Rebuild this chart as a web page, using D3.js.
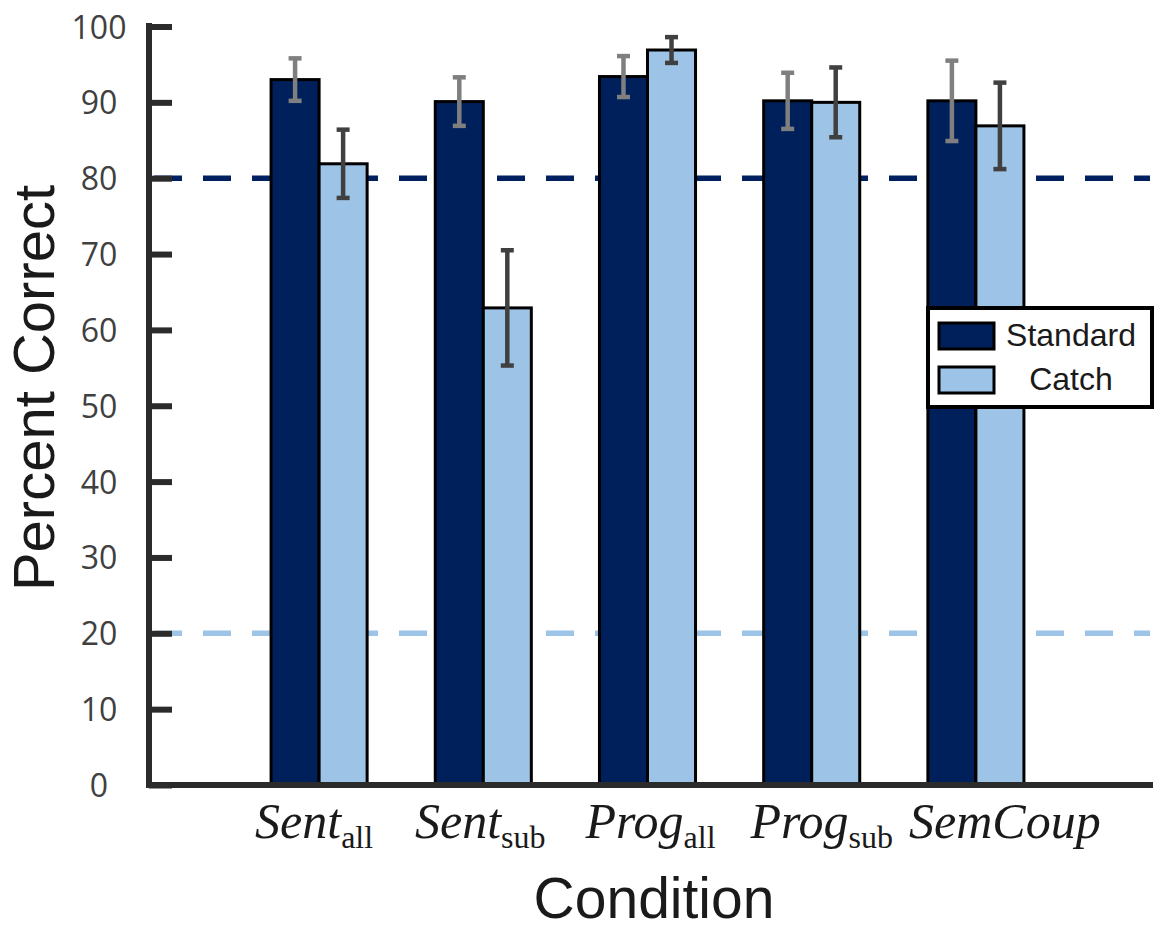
<!DOCTYPE html>
<html>
<head>
<meta charset="utf-8">
<script src="https://cdn.jsdelivr.net/npm/d3@7"></script>
<style>
  html, body { margin: 0; padding: 0; background: #fff; }
  svg { display: block; }
</style>
</head>
<body>
<script>
// ---------- data ----------
const categories = ["Sent_all", "Sent_sub", "Prog_all", "Prog_sub", "SemCoup"];
const labelMain = ["Sent", "Sent", "Prog", "Prog", "SemCoup"];
const labelSub = ["all", "sub", "all", "sub", ""];
const seriesNames = ["Standard", "Catch"];
const standardValues = [93.0, 90.1, 93.4, 90.2, 90.2];
const standardErrors = [2.8, 3.2, 2.7, 3.7, 5.3];
const catchValues = [81.9, 62.9, 96.9, 90.0, 86.9];
const catchErrors = [4.5, 7.6, 1.7, 4.6, 5.7];
const yTicks = [0, 10, 20, 30, 40, 50, 60, 70, 80, 90, 100];
const refLines = [80, 20];

// ---------- layout ----------
const W = 1156, H = 929;
const axisX = 149, axisRight = 1153;
const colors = { Standard: "#00205c", Catch: "#9dc3e6" };
const errColors = { Standard: "#7f7f7f", Catch: "#404040" };
const refColors = ["#002060", "#9dc3e6"];
const labelNudge = [-5, -3, 3, 10, 29];

const svg = d3.select("body").append("svg").attr("width", W).attr("height", H);

const y = d3.scaleLinear().domain([0, 100]).range([785, 26.5]);
const x = d3.scaleBand().domain(categories).range([237, 1058]).paddingInner(0.415).paddingOuter(0.2075);
const xs = d3.scaleBand().domain(seriesNames).range([0, x.bandwidth()]);

const rows = categories.map((c, i) => ({
  cat: c,
  vals: [
    { s: "Standard", v: standardValues[i], e: standardErrors[i] },
    { s: "Catch", v: catchValues[i], e: catchErrors[i] }
  ]
}));

// reference dashed lines
svg.selectAll("line.ref").data(refLines).join("line")
  .attr("class", "ref")
  .attr("x1", axisX).attr("x2", 1150)
  .attr("y1", d => y(d)).attr("y2", d => y(d))
  .attr("stroke", (d, i) => refColors[i])
  .attr("stroke-width", 5.5)
  .attr("stroke-dasharray", "28,21")
  .attr("stroke-dashoffset", 44);

// y axis ticks + labels
const yAxis = d3.axisLeft(y).tickValues(yTicks).tickSize(-23).tickSizeOuter(0).tickFormat(d3.format("d"));
const gy = svg.append("g").attr("transform", `translate(${axisX},0)`).call(yAxis);
gy.select(".domain").remove();
gy.selectAll(".tick line").attr("stroke", "#2b2b2b").attr("stroke-width", 6);
gy.selectAll(".tick text")
  .attr("x", -50).attr("dy", "0.36em")
  .attr("text-anchor", "middle")
  .attr("fill", "#404040")
  .style("font-family", "'Open Sans', sans-serif")
  .style("font-size", "32px");

// bars
const groups = svg.selectAll("g.grp").data(rows).join("g")
  .attr("class", "grp")
  .attr("transform", d => `translate(${x(d.cat)},0)`);

groups.selectAll("rect").data(d => d.vals).join("rect")
  .attr("x", d => xs(d.s))
  .attr("width", xs.bandwidth())
  .attr("y", d => y(d.v))
  .attr("height", d => y(0) - y(d.v))
  .attr("fill", d => colors[d.s])
  .attr("stroke", "#000")
  .attr("stroke-width", 3);

// error bars
const eb = groups.selectAll("g.err").data(d => d.vals).join("g").attr("class", "err")
  .attr("stroke", d => errColors[d.s]).attr("stroke-width", 4.5);
eb.append("line")
  .attr("x1", d => xs(d.s) + xs.bandwidth() / 2).attr("x2", d => xs(d.s) + xs.bandwidth() / 2)
  .attr("y1", d => y(d.v + d.e)).attr("y2", d => y(d.v - d.e));
eb.append("line")
  .attr("x1", d => xs(d.s) + xs.bandwidth() / 2 - 6.5).attr("x2", d => xs(d.s) + xs.bandwidth() / 2 + 6.5)
  .attr("y1", d => y(d.v + d.e)).attr("y2", d => y(d.v + d.e));
eb.append("line")
  .attr("x1", d => xs(d.s) + xs.bandwidth() / 2 - 6.5).attr("x2", d => xs(d.s) + xs.bandwidth() / 2 + 6.5)
  .attr("y1", d => y(d.v - d.e)).attr("y2", d => y(d.v - d.e));

// axes lines
svg.append("line")
  .attr("x1", axisX).attr("x2", axisX)
  .attr("y1", y(100) - 3.5).attr("y2", y(0) + 3)
  .attr("stroke", "#2b2b2b").attr("stroke-width", 6);
svg.append("line")
  .attr("x1", axisX - 3).attr("x2", axisRight)
  .attr("y1", y(0)).attr("y2", y(0))
  .attr("stroke", "#2b2b2b").attr("stroke-width", 6);

// category labels
const xl = svg.selectAll("text.cat").data(categories).join("text")
  .attr("class", "cat")
  .attr("x", (d, i) => x(d) + x.bandwidth() / 2 + labelNudge[i])
  .attr("y", 838)
  .attr("text-anchor", "middle")
  .attr("fill", "#1a1a1a")
  .style("font-family", "'Liberation Serif', 'Times New Roman', serif");
xl.append("tspan")
  .style("font-style", "italic").style("font-size", "50px")
  .text((d, i) => labelMain[i]);
xl.append("tspan")
  .attr("dy", 10)
  .style("font-size", "32px")
  .text((d, i) => labelSub[i]);

// axis titles
svg.append("text")
  .attr("transform", "translate(54,388) rotate(-90)")
  .attr("text-anchor", "middle")
  .attr("fill", "#1a1a1a")
  .style("font-family", "'Liberation Sans', Arial, sans-serif")
  .style("font-size", "58px")
  .text("Percent Correct");
svg.append("text")
  .attr("x", 654).attr("y", 918)
  .attr("text-anchor", "middle")
  .attr("fill", "#1a1a1a")
  .style("font-family", "'Liberation Sans', Arial, sans-serif")
  .style("font-size", "57px")
  .text("Condition");

// legend
const lg = svg.append("g");
lg.append("rect").attr("x", 928).attr("y", 308).attr("width", 224).attr("height", 99)
  .attr("fill", "#fff").attr("stroke", "#000").attr("stroke-width", 4);
const li = lg.selectAll("g.li").data(seriesNames).join("g").attr("class", "li")
  .attr("transform", (d, i) => `translate(0,${i * 44})`);
li.append("rect").attr("x", 939).attr("y", 323).attr("width", 55).attr("height", 26)
  .attr("fill", d => colors[d]).attr("stroke", "#000").attr("stroke-width", 3);
li.append("text")
  .attr("x", 1071).attr("y", 346)
  .attr("text-anchor", "middle")
  .attr("fill", "#1a1a1a")
  .style("font-family", "'Liberation Sans', Arial, sans-serif")
  .style("font-size", "32px")
  .text(d => d);
</script>
</body>
</html>
